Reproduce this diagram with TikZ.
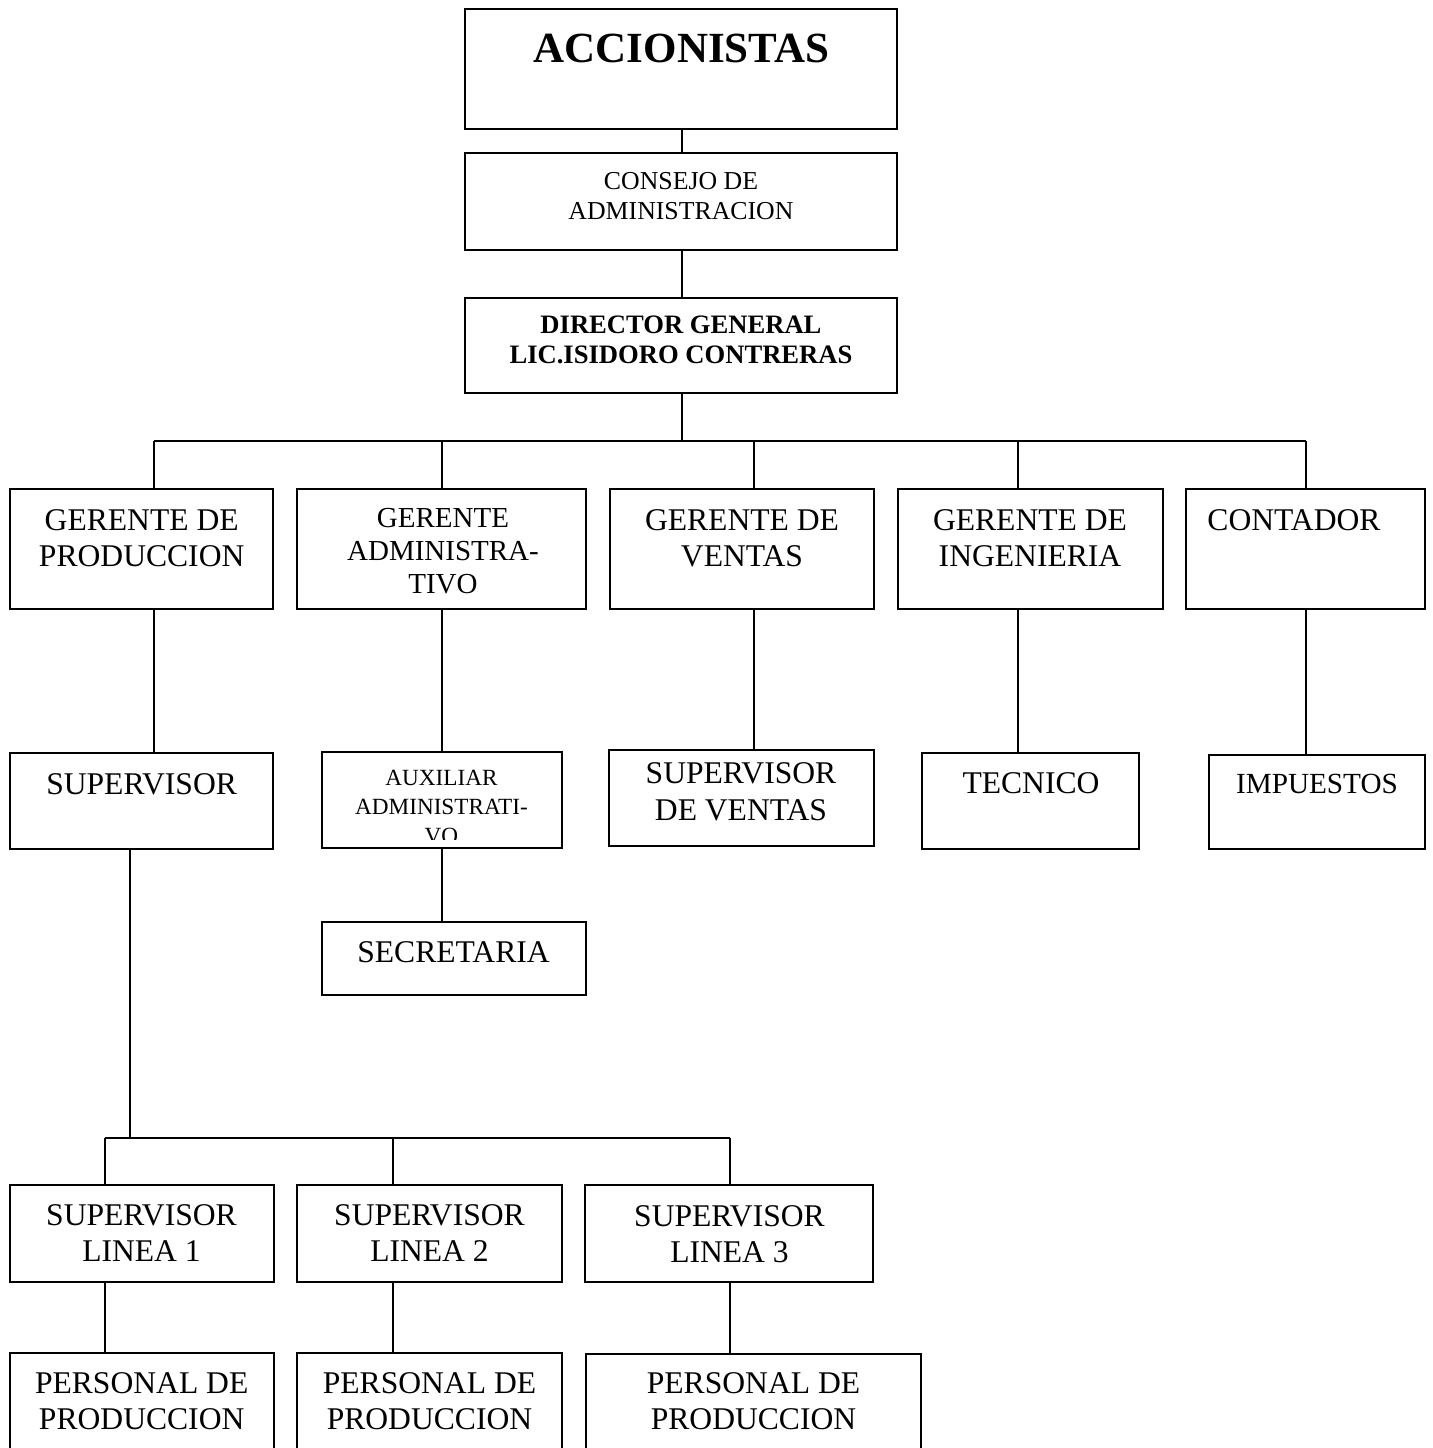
\documentclass[tikz,border=0pt]{standalone}
\usepackage{fontspec}
\setmainfont{Liberation Serif}
\newcommand\orgbox[5]{\node[orgbx, minimum width={(#4-#2)*0.5pt}, minimum height={(#5-#3)*0.5pt}] (#1) at ({(#2+#4)/2},{(#3+#5)/2}) {};}
\newcommand\fsz[2]{\fontsize{#1}{#2}\selectfont}
\begin{document}
\begin{tikzpicture}[x=0.5pt,y=-0.5pt,
  orgbx/.style={draw, line width=1pt, rectangle, inner sep=0pt},
  lbl/.style={anchor=base, align=center, inner sep=0pt},
  conn/.style={line width=1pt},
  big/.style={font=\fsz{15.8}{18}}]
\clip (0,0) rectangle (1432,1448);
\fill[white] (0,0) rectangle (1432,1448);

% boxes
\orgbox{acc}{465}{9}{897}{129}
\orgbox{con}{465}{153}{897}{250}
\orgbox{dir}{465}{298}{897}{393}
\orgbox{gp}{10}{489}{273}{609}
\orgbox{ga}{297}{489}{586}{609}
\orgbox{gv}{610}{489}{874}{609}
\orgbox{gi}{898}{489}{1163}{609}
\orgbox{ct}{1186}{489}{1425}{609}
\orgbox{sup}{10}{753}{273}{849}
\orgbox{aux}{322}{752}{562}{848}
\orgbox{sec}{322}{922}{586}{995}
\orgbox{sv}{609}{750}{874}{846}
\orgbox{tec}{922}{753}{1139}{849}
\orgbox{imp}{1209}{755}{1425}{849}
\orgbox{s1}{10}{1185}{274}{1282}
\orgbox{s2}{297}{1185}{562}{1282}
\orgbox{s3}{585}{1185}{873}{1282}
\orgbox{p1}{10}{1353}{274}{1470}
\orgbox{p2}{297}{1353}{562}{1470}
\orgbox{p3}{586}{1354}{921}{1470}

% texts (multi-line nodes: base = baseline of last line)
\node[lbl, font=\fsz{21.5}{25}\bfseries] (acc-t) at (681.5,62) {ACCIONISTAS};
\node[lbl, font=\fsz{12.9}{15}] (con-t) at (681,219) {CONSEJO DE\\ADMINISTRACION};
\node[lbl, font=\fsz{13.3}{15}\bfseries] (dir-t) at (681,363) {DIRECTOR GENERAL\\LIC.ISIDORO CONTRERAS};
\node[lbl, big] (gp-t) at (141.7,566) {GERENTE DE\\PRODUCCION};
\node[lbl, font=\fsz{14.5}{16.5}] (ga-t) at (443,593) {GERENTE\\ADMINISTRA-\\TIVO};
\node[lbl, big] (gv-t) at (742,566) {GERENTE DE\\VENTAS};
\node[lbl, big] (gi-t) at (1030,566) {GERENTE DE\\INGENIERIA};
\node[lbl, big] (ct-t) at (1294,530) {CONTADOR};
\node[lbl, big] (sup-t) at (141.6,794) {SUPERVISOR};
\begin{scope}
\clip (322,752) rectangle (562,839);
\node[lbl, font=\fsz{11.6}{14.5}] (aux-t) at (441.5,843) {AUXILIAR\\ADMINISTRATI-\\VO};
\end{scope}
\node[lbl, big] (sec-t) at (453.5,962.7) {SECRETARIA};
\node[lbl, font=\fsz{15.8}{18.5}] (sv-t) at (741,820) {SUPERVISOR\\DE VENTAS};
\node[lbl, big] (tec-t) at (1031,793) {TECNICO};
\node[lbl, font=\fsz{14.6}{17}] (imp-t) at (1317,793.3) {IMPUESTOS};
\node[lbl, font=\fsz{15.8}{18.3}] (s1-t) at (141.5,1261.7) {SUPERVISOR\\LINEA 1};
\node[lbl, font=\fsz{15.8}{18.3}] (s2-t) at (429.5,1261.7) {SUPERVISOR\\LINEA 2};
\node[lbl, font=\fsz{15.8}{18.3}] (s3-t) at (729.5,1262.7) {SUPERVISOR\\LINEA 3};
\node[lbl, big] (p1-t) at (141.7,1429.3) {PERSONAL DE\\PRODUCCION};
\node[lbl, big] (p2-t) at (429.5,1429.3) {PERSONAL DE\\PRODUCCION};
\node[lbl, big] (p3-t) at (753.5,1429.3) {PERSONAL DE\\PRODUCCION};

% bus coordinates
\coordinate (j1) at (154,441);
\coordinate (j2) at (442,441);
\coordinate (j3) at (754,441);
\coordinate (j4) at (1018,441);
\coordinate (j5) at (1305.5,441);
\coordinate (k0) at (129.5,1138);
\coordinate (k1) at (105,1138);
\coordinate (k2) at (393,1138);
\coordinate (k3) at (730,1138);

% connectors
\draw[conn] (acc.south -| 682,0) -- (con.north -| 682,0);
\draw[conn] (con.south -| 682,0) -- (dir.north -| 682,0);
\draw[conn] (dir.south -| 682,0) -- (682,441);
\draw[conn] (j1) -- (j5);
\draw[conn] (j1) -- (j1 |- gp.north);
\draw[conn] (j2) -- (j2 |- ga.north);
\draw[conn] (j3) -- (j3 |- gv.north);
\draw[conn] (j4) -- (j4 |- gi.north);
\draw[conn] (j5) -- (j5 |- ct.north);
\draw[conn] (j1 |- gp.south) -- (j1 |- sup.north);
\draw[conn] (j2 |- ga.south) -- (j2 |- aux.north);
\draw[conn] (j3 |- gv.south) -- (j3 |- sv.north);
\draw[conn] (j4 |- gi.south) -- (j4 |- tec.north);
\draw[conn] (j5 |- ct.south) -- (j5 |- imp.north);
\draw[conn] (j2 |- aux.south) -- (j2 |- sec.north);
\draw[conn] (k0 |- sup.south) -- (k0);
\draw[conn] (k1) -- (k3);
\draw[conn] (k1) -- (k1 |- s1.north);
\draw[conn] (k2) -- (k2 |- s2.north);
\draw[conn] (k3) -- (k3 |- s3.north);
\draw[conn] (k1 |- s1.south) -- (k1 |- p1.north);
\draw[conn] (k2 |- s2.south) -- (k2 |- p2.north);
\draw[conn] (k3 |- s3.south) -- (k3 |- p3.north);
\end{tikzpicture}
\end{document}
